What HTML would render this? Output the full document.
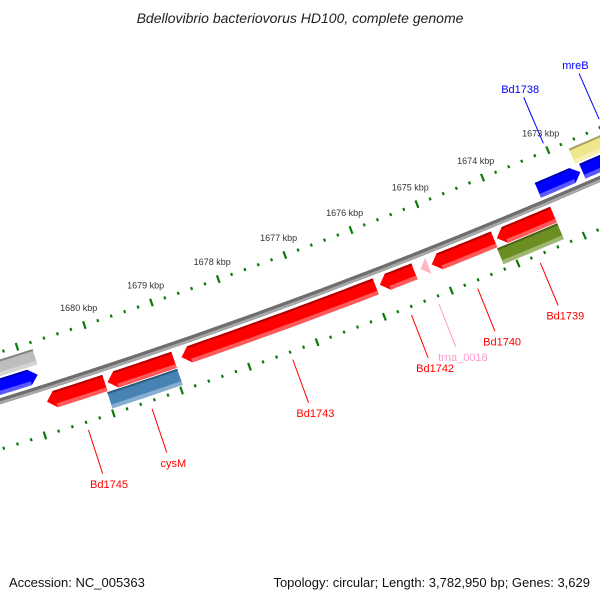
<!DOCTYPE html>
<html><head><meta charset="utf-8"><style>
body{margin:0;background:#fff}
svg{display:block;font-family:"Liberation Sans","DejaVu Sans",sans-serif}
</style></head><body>
<svg id="map" width="600" height="600" viewBox="0 0 600 600" xmlns="http://www.w3.org/2000/svg">
<rect width="600" height="600" fill="#fff"/>
<text x="300" y="23" text-anchor="middle" font-size="14" font-style="italic" fill="#222">Bdellovibrio bacteriovorus HD100, complete genome</text>
<g id="ticks"></g>
<g id="backbone"></g>
<g id="features"></g>
<g id="labels"></g>
<text x="9" y="587" font-size="13" fill="#111">Accession: NC_005363</text>
<text x="590" y="587" text-anchor="end" font-size="13" fill="#111">Topology: circular; Length: 3,782,950 bp; Genes: 3,629</text>
</svg>
<script>
// data (kbp)
const featNames = ["blue-left","gray-left","Bd1745","red-1744","cysM","Bd1743","Bd1742","trna_0018","Bd1740","Bd1739","green-1739","Bd1738","blue-right2","mreB"];
const featStart = [1680.84,1680.80,1679.98,1678.96,1678.96,1675.96,1675.38,1675.17,1674.18,1673.28,1673.28,1672.70,1671.90,1671.90];
const featEnd   = [1681.80,1681.80,1680.83,1679.94,1679.99,1678.85,1675.90,1675.29,1675.12,1674.14,1674.19,1673.35,1672.67,1672.72];
const featTrack = ["A","B","C","C","D","C","C","C","C","C","D","A","A","B"];
const featDir   = [-1,0,1,1,0,1,1,1,1,1,0,-1,-1,0];
const tickLabels = [1673,1674,1675,1676,1677,1678,1679,1680];
const labelText = ["Bd1745","cysM","Bd1743","Bd1742","trna_0018","Bd1740","Bd1739","Bd1738","mreB"];
const labelPos  = [1680.40,1679.47,1677.40,1675.64,1675.23,1674.65,1673.71,1673.02,1672.16];
const labelSide = [1,1,1,1,1,1,1,-1,-1];

const palette = {"blue-left":"#0000ff","gray-left":"#bdbdbd","Bd1745":"#ff0000","red-1744":"#ff0000","cysM":"#4682b4","Bd1743":"#ff0000","Bd1742":"#ff0000","trna_0018":"#ffb6c1","Bd1740":"#ff0000","Bd1739":"#ff0000","green-1739":"#6b8e23","Bd1738":"#0000ff","blue-right2":"#0000ff","mreB":"#f0e68c"};
const labelColor = {"Bd1738":"#0000ff","mreB":"#0000ff","trna_0018":"#ff99cc"};
const R0=5800, CX=-1713, CY=-5140;
const tracks={A:[-22,-6],B:[-40,-24],C:[6,23],D:[24,41]};
function ang(k){return (66.86+(k-1673)*0.705)*Math.PI/180;}
function pt(r,k){const a=ang(k);return [CX+r*Math.cos(a),CY+r*Math.sin(a)];}
const NS="http://www.w3.org/2000/svg";
function arcPts(r,k1,k2,n){const p=[];for(let i=0;i<=n;i++){p.push(pt(r,k1+(k2-k1)*i/n));}return p;}
function mk(tag,attrs,parent){const e=document.createElementNS(NS,tag);for(const a in attrs)e.setAttribute(a,attrs[a]);parent.appendChild(e);return e;}
function shade(hex,f){const n=parseInt(hex.slice(1),16);let r=n>>16,g=(n>>8)&255,b=n&255;
 if(f<0){r*=1+f;g*=1+f;b*=1+f;}else{r+=(255-r)*f;g+=(255-g)*f;b+=(255-b)*f;}
 return "rgb("+Math.round(r)+","+Math.round(g)+","+Math.round(b)+")";}
function shapePts(k1,k2,ri,ro,dir){
 const head=Math.min(0.12,k2-k1);let p=[];const rm=(ri+ro)/2;
 if(dir===1){const nk=k2-head;p=arcPts(ro,k1,nk,12).concat([pt(rm,k2)],arcPts(ri,nk,k1,12));}
 else if(dir===-1){const nk=k1+head;p=[pt(rm,k1)].concat(arcPts(ro,nk,k2,12),arcPts(ri,k2,nk,12));}
 else{p=arcPts(ro,k1,k2,12).concat(arcPts(ri,k2,k1,12));}
 return p.map(q=>q[0].toFixed(1)+","+q[1].toFixed(1)).join(" ");}

// ticks
const tg=document.getElementById('ticks');
[R0-47,R0+46].forEach((rr,ri)=>{
 for(let i=0;i<=60;i++){const k=1670.6+i*0.2;const major=Math.abs(k-Math.round(k))<0.01;
  const L=major?4:1.5;const a=pt(rr-L,k),b=pt(rr+L,k);
  const t=mk('line',{x1:a[0],y1:a[1],x2:b[0],y2:b[1],stroke:"#0a7a0a","stroke-width":major?2.2:2.2},tg);
  
  }
});
tickLabels.forEach(k=>{const p=pt(R0-65,k);
 const t=mk('text',{x:p[0].toFixed(1),y:(p[1]+3).toFixed(1),"text-anchor":"middle","font-size":"9",fill:"#333"},tg);
 t.textContent=k+" kbp";
 
 });

// backbone
const bg=document.getElementById('backbone');
function arcPath(r,k1,k2){const a=pt(r,k1),b=pt(r,k2);return "M"+a[0]+","+a[1]+" A"+r+","+r+" 0 0 0 "+b[0]+","+b[1];}
let e=mk('path',{d:arcPath(R0,1683,1671),fill:"none",stroke:"#6e6e6e","stroke-width":6},bg);


e=mk('path',{d:arcPath(R0+1.5,1683,1671),fill:"none",stroke:"#a8a8a8","stroke-width":2.5},bg);



// features
const fg=document.getElementById('features');
featNames.forEach((nm,i)=>{
 const tr=tracks[featTrack[i]];const ri=R0+tr[0],ro=R0+tr[1];const c=palette[nm];const g=mk('g',{},fg);
 
 
 mk('polygon',{points:shapePts(featStart[i],featEnd[i],ri,ro,featDir[i]),fill:c},g);
 const head=(featDir[i]!==0)?Math.min(0.12,featEnd[i]-featStart[i]):0;
 const b1=featDir[i]===-1?featStart[i]+head:featStart[i];
 const b2=featDir[i]===1?featEnd[i]-head:featEnd[i];
 if(b2>b1){
  mk('polygon',{points:shapePts(b1,b2,ri,ri+2,0),fill:shade(c,-0.3)},g);
  mk('polygon',{points:shapePts(b1,b2,ro-4,ro,0),fill:shade(c,0.35)},g);
 }
});

// labels
const lg=document.getElementById('labels');
labelText.forEach((t,i)=>{
 const s=labelSide[i];const col=labelColor[t]||"#ff0000";
 const r1=s>0?R0+54:R0-55, r2=s>0?R0+100:R0-105, r3=s>0?R0+111:R0-114;
 const a=pt(r1,labelPos[i]),b=pt(r2,labelPos[i]),c=pt(r3,labelPos[i]);
 const ln=mk('line',{x1:a[0],y1:a[1],x2:b[0],y2:b[1],stroke:col,"stroke-width":1},lg);
 
 
 const tx=mk('text',{x:(c[0]+(s>0?3:0)).toFixed(1),y:(c[1]+4).toFixed(1),"text-anchor":"middle","font-size":"11",fill:col},lg);
 tx.textContent=t;
 
 
});
</script>
</body></html>
